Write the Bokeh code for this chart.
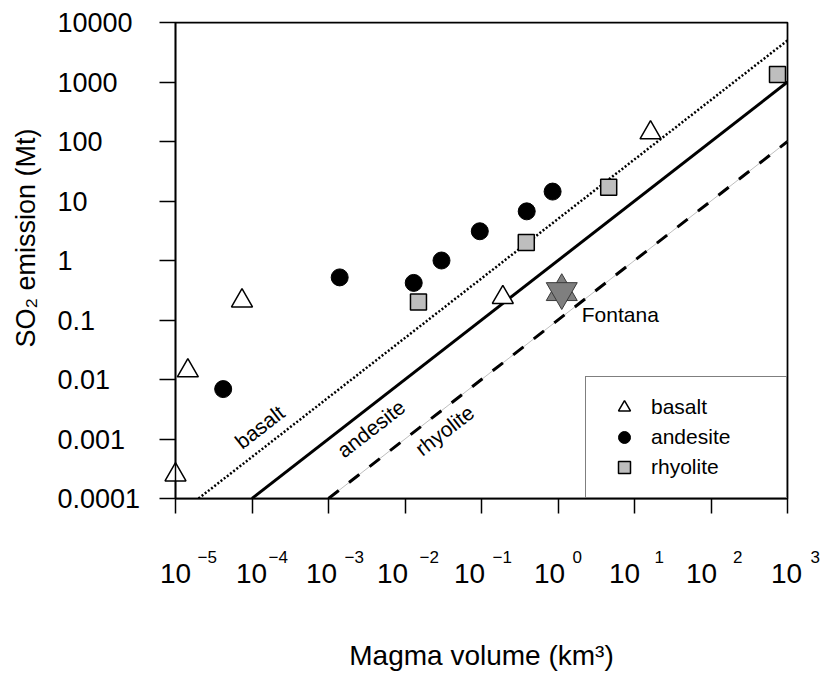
import math
from bokeh.plotting import figure
from bokeh.models import (Range1d, FixedTicker, Legend, LegendItem, CustomJSTickFormatter)
from bokeh.core.properties import value
from bokeh.embed import file_html
from bokeh.resources import INLINE

# ---------------- data ----------------
basalt_volume = [1.0e-5, 1.45e-5, 7.4e-5, 0.19, 16.2]
basalt_so2 = [0.00025, 0.014, 0.21, 0.24, 140.0]

andesite_volume = [4.2e-5, 1.4e-3, 0.013, 0.030, 0.095, 0.39, 0.85]
andesite_so2 = [0.0069, 0.52, 0.42, 1.0, 3.1, 6.7, 14.4]

rhyolite_volume = [0.015, 0.385, 4.6, 740.0]
rhyolite_so2 = [0.20, 2.0, 17.0, 1340.0]

fontana_volume = [1.12]
fontana_so2 = [0.30]
fontana_name = ["Fontana"]

# reference lines: SO2 (Mt) = ratio * volume (km3)
line_names = ["basalt", "andesite", "rhyolite"]
line_ratio = [5.0, 1.0, 0.1]
line_label_volume = [1.26e-4, 3.6e-3, 0.033]
line_label_so2 = [1.6e-3, 1.5e-3, 1.4e-3]

x_ticks = [1e-5, 1e-4, 1e-3, 1e-2, 1e-1, 1e0, 1e1, 1e2, 1e3]
x_tick_base = ["10"] * 9
x_tick_exp = ["\u22125", "\u22124", "\u22123", "\u22122", "\u22121", "0", "1", "2", "3"]
y_ticks = [1e-4, 1e-3, 1e-2, 1e-1, 1e0, 1e1, 1e2, 1e3, 1e4]
y_tick_labels = ["0.0001", "0.001", "0.01", "0.1", "1", "10", "100", "1000", "10000"]

X_MIN, X_MAX = 1e-5, 1e3
Y_MIN, Y_MAX = 1e-4, 1e4

# ---------------- layout / style ----------------
FONT = "Liberation Sans"
W, H = 821, 674
BL, BR, BT, BB = 175, 34, 22, 176
frame_w, frame_h = W - BL - BR, H - BT - BB
# per-label horizontal offsets (px) of the "10" and of the exponent, as in the reference
base_dx = [0, -0.5, -7, -12.5, -12, -8.5, -10, -9.5, -1]
exp_dx = [22, 16.5, 16, 14.5, 11, 14.5, 20, 22, 23]

p = figure(width=W, height=H, x_axis_type="log", y_axis_type="log",
           x_range=Range1d(X_MIN, X_MAX), y_range=Range1d(Y_MIN, Y_MAX),
           output_backend="svg", toolbar_location=None,
           min_border_left=BL, min_border_right=BR, min_border_top=BT, min_border_bottom=BB)
p.grid.visible = False
p.background_fill_color = "white"
p.border_fill_color = "white"
p.outline_line_color = "black"
p.outline_line_width = 1.75

empty = CustomJSTickFormatter(code="return ''")
for ax, ticks in ((p.xaxis[0], x_ticks), (p.yaxis[0], y_ticks)):
    ax.ticker = FixedTicker(ticks=ticks)
    ax.formatter = empty
    ax.minor_tick_line_color = None
    ax.major_tick_in = 0
    ax.major_tick_line_width = 1.5
    ax.axis_line_width = 1.5
    ax.major_label_standoff = 0
    ax.axis_label_text_font = FONT
    ax.axis_label_text_font_style = "normal"
    ax.axis_label_text_color = "black"
p.xaxis.major_tick_out = 15
p.yaxis.major_tick_out = 16
p.xaxis.axis_label = "Magma volume (km\u00b3)"
p.xaxis.axis_label_text_font_size = "28px"
p.xaxis.axis_label_standoff = 126
# leading no-break spaces move the centred title up, as in the reference
p.yaxis.axis_label = "\u00a0" * 6 + "SO\u2082 emission (Mt)"
p.yaxis.axis_label_text_font_size = "27px"
p.yaxis.axis_label_standoff = 119

# reference lines
line_styles = [dict(line_dash="2 2", line_width=2.5, line_color="black"),
               dict(line_width=3, line_color="black"),
               dict(line_dash="13 13", line_width=3, line_color="black")]
for name, k, st in zip(line_names, line_ratio, line_styles):
    xs = [Y_MIN / k, X_MAX]
    ys = [k * x for x in xs]
    if name == "rhyolite":
        p.line(xs, ys, line_color="#bebebe", line_width=1)
    p.line(xs, ys, **st)

angle = math.degrees(math.atan((frame_h / math.log10(Y_MAX / Y_MIN)) /
                               (frame_w / math.log10(X_MAX / X_MIN))))
p.text(x=line_label_volume, y=line_label_so2, text=line_names, angle=angle, angle_units="deg",
       text_align="center", text_baseline="middle", text_font=value(FONT),
       text_font_size="21px", text_color="black")

# data points
r_b = p.scatter(basalt_volume, basalt_so2, marker="triangle", size=21,
                fill_color="white", line_color="black", line_width=1.5)
r_a = p.scatter(andesite_volume, andesite_so2, marker="circle", size=17,
                fill_color="black", line_color="black")
r_r = p.scatter(rhyolite_volume, rhyolite_so2, marker="square", size=16,
                fill_color="#bebebe", line_color="black", line_width=1.5)
r_f1 = p.scatter(fontana_volume, fontana_so2, marker="triangle", size=31,
                 fill_color="#7f7f7f", line_color="#3a3a3a", line_width=1)
r_f2 = p.scatter(fontana_volume, fontana_so2, marker="inverted_triangle", size=31,
                 fill_color="#7f7f7f", line_color="#3a3a3a", line_width=1)
for r in (r_b, r_a, r_r, r_f1, r_f2):
    r.level = "guide"   # do not clip markers that sit on the frame edge
p.text(x=fontana_volume, y=fontana_so2, text=fontana_name, x_offset=20, y_offset=23,
       text_align="left", text_baseline="middle", text_font=value(FONT),
       text_font_size="21px", text_color="black")

legend = Legend(items=[LegendItem(label="basalt", renderers=[r_b]),
                       LegendItem(label="andesite", renderers=[r_a]),
                       LegendItem(label="rhyolite", renderers=[r_r])],
                location="bottom_right", margin=0, padding=15, spacing=0,
                glyph_width=46, glyph_height=30, label_standoff=4, label_width=120,
                label_height=30,
                label_text_font=FONT, label_text_font_size="21px", label_text_color="black",
                border_line_color="black", border_line_width=1.5,
                background_fill_color="white", background_fill_alpha=1.0)
p.add_layout(legend)

# tick labels (text glyphs outside the frame, anchored on the tick values)
t_y = p.text(x=[X_MIN] * len(y_ticks), y=y_ticks, text=y_tick_labels,
             x_offset=-118, y_offset=0, text_align="left", text_baseline="middle",
             text_font=value(FONT), text_font_size="27px", text_color="black")
t_xb = p.text(x=x_ticks, y=[Y_MIN] * len(x_ticks), text=x_tick_base,
              x_offset=base_dx, y_offset=75, text_align="center", text_baseline="alphabetic",
              text_font=value(FONT), text_font_size="28px", text_color="black")
t_xe = p.text(x=x_ticks, y=[Y_MIN] * len(x_ticks), text=x_tick_exp,
              x_offset=exp_dx, y_offset=58, text_align="left", text_baseline="alphabetic",
              text_font=value(FONT), text_font_size="17px", text_color="black")
for r in (t_y, t_xb, t_xe):
    r.level = "guide"

open("out.html", "w").write(file_html(p, INLINE))
